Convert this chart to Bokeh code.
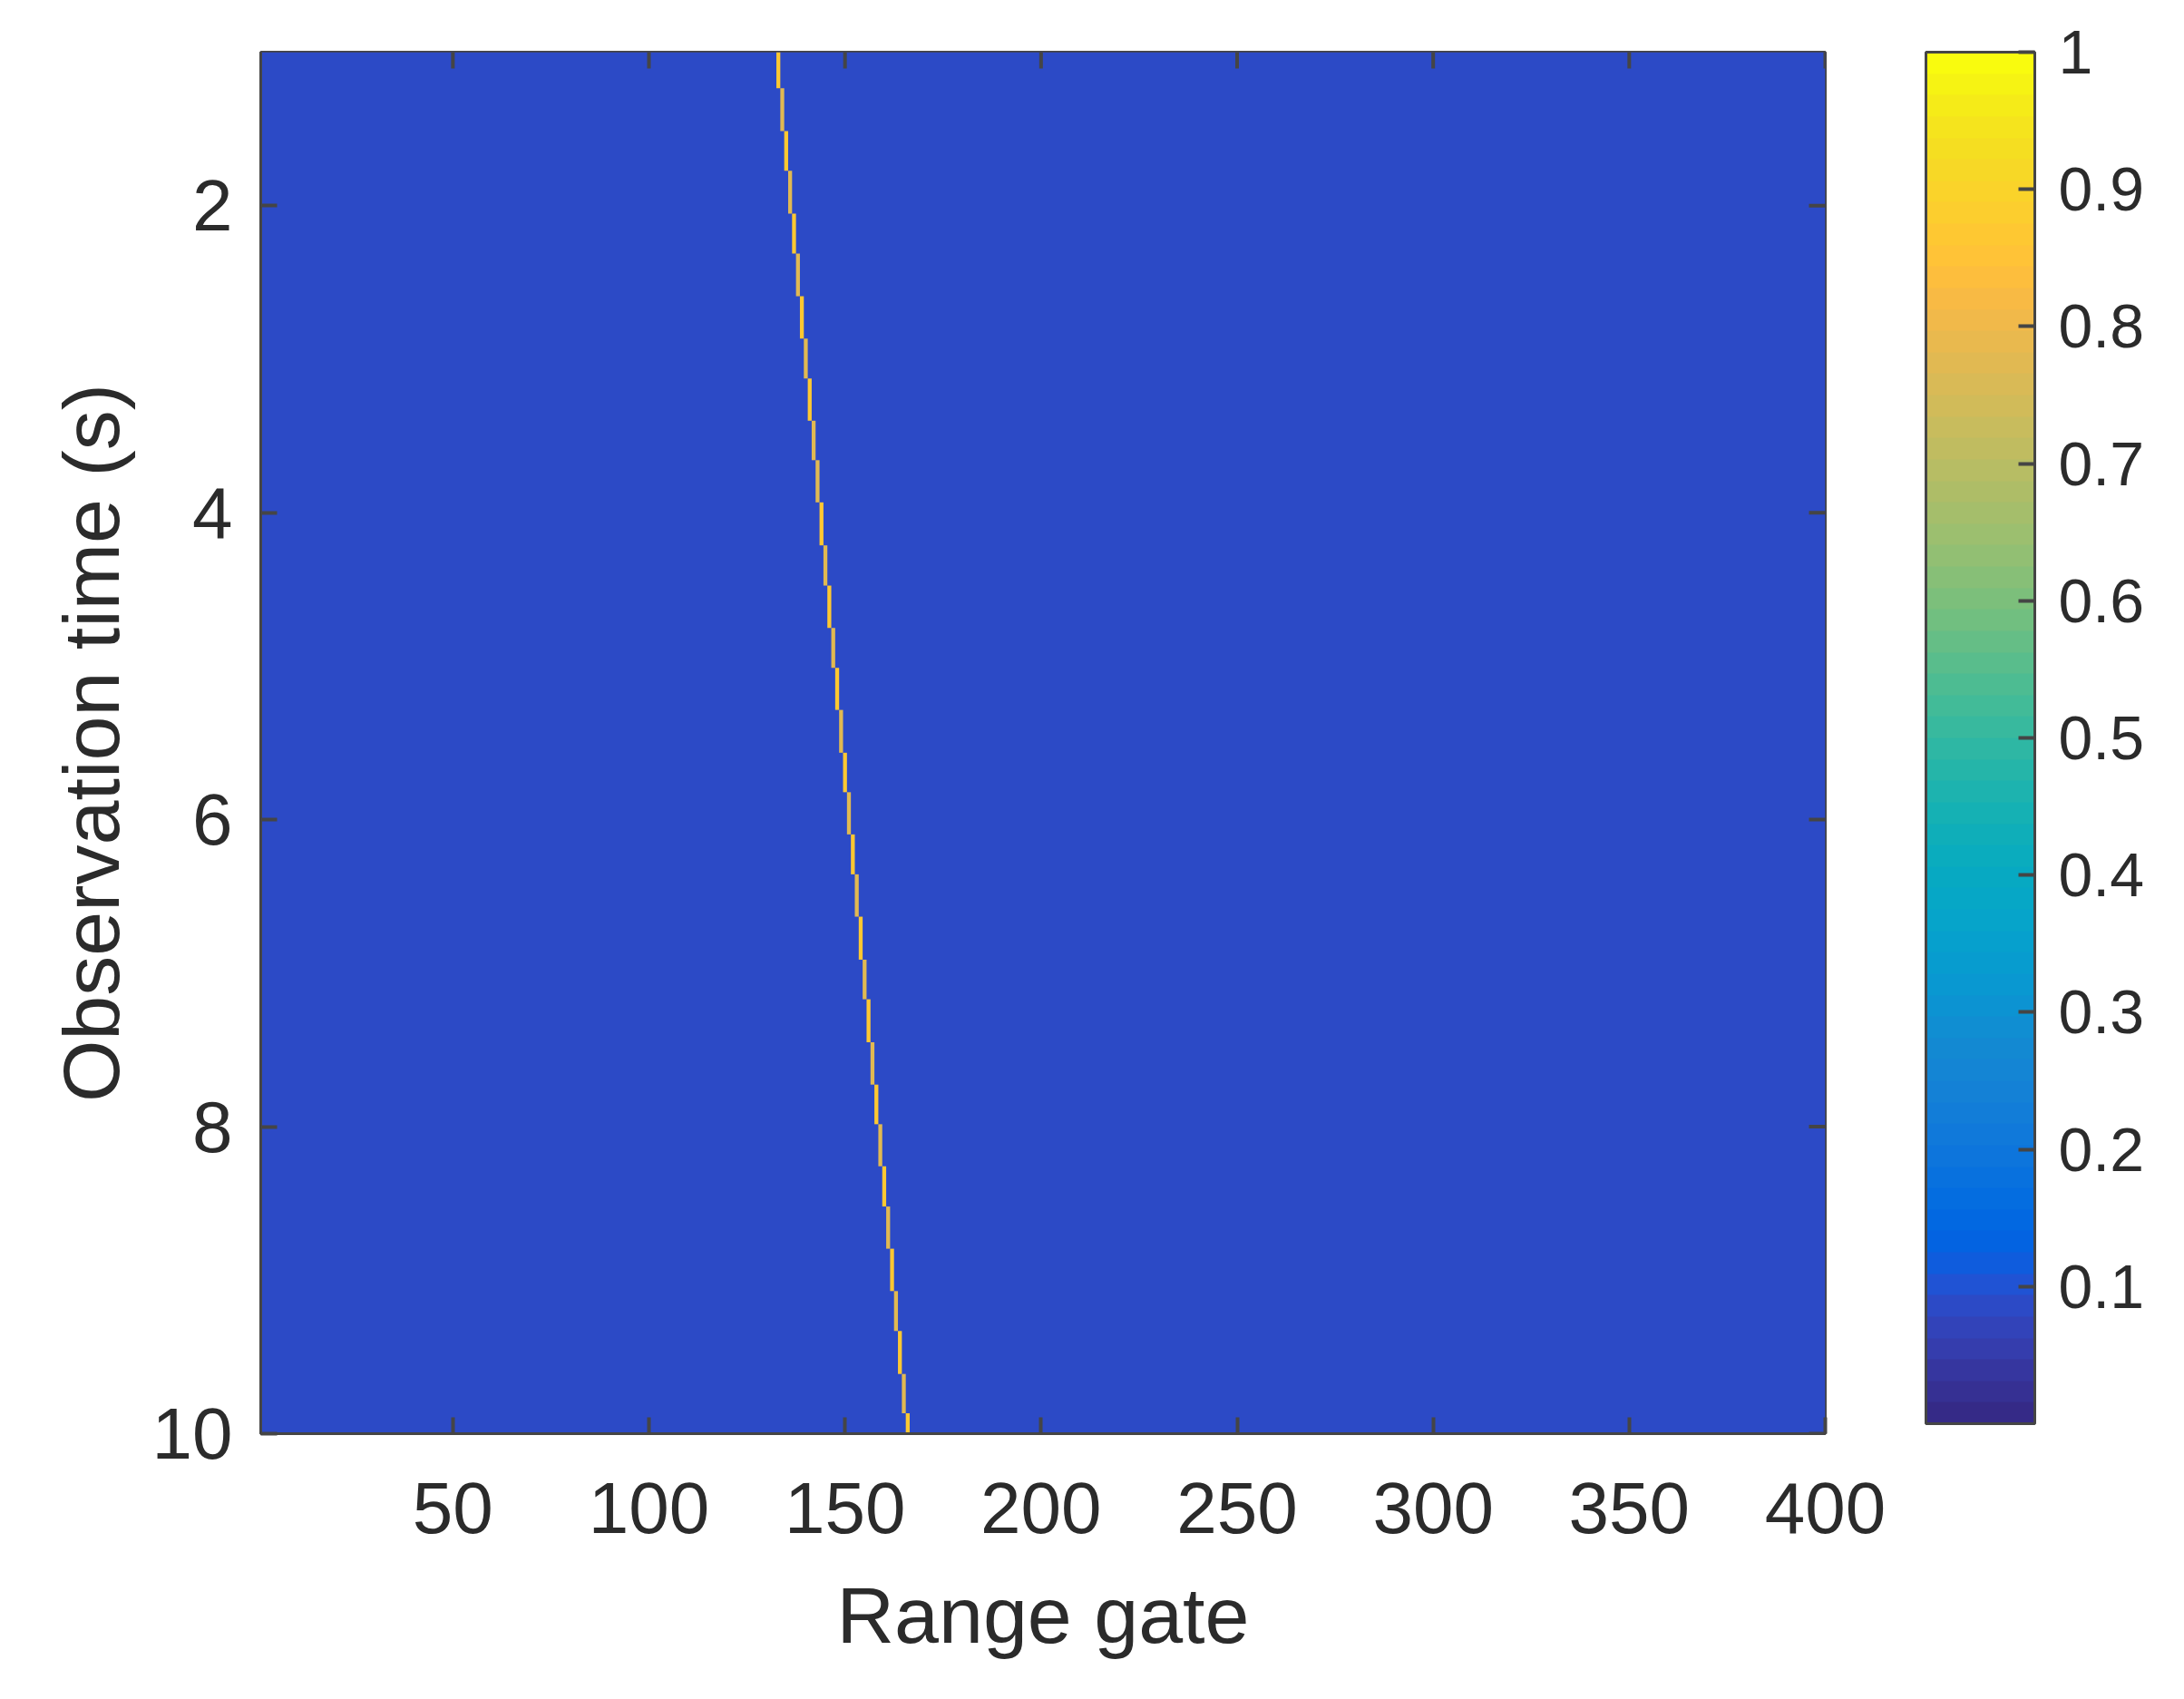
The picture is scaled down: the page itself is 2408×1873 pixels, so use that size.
import math

from bokeh.embed import file_html
from bokeh.resources import INLINE
from bokeh.plotting import figure
from bokeh.models import ColumnDataSource, LinearColorMapper, ColorBar, FixedTicker, Range1d

# Values.
# Background noise cannot be read cell by cell, so it is drawn at its estimated
# mean level rather than being invented with random numbers.
background_level = [0.09]

# Bright track: range gate of each step, the time at which each step ends, its level
track_gate = [133, 134, 135, 136, 137, 138, 139, 140, 141, 142, 143, 144, 145, 146, 147, 148, 149,
              150, 151, 152, 153, 154, 155, 156, 157, 158, 159, 160, 161, 162, 163, 164, 165, 166]
track_end = [1.235, 1.514, 1.772, 2.052, 2.312, 2.590, 2.866, 3.126, 3.401, 3.658, 3.933, 4.213,
             4.475, 4.751, 5.011, 5.285, 5.564, 5.821, 6.096, 6.356, 6.632, 6.912, 7.170, 7.450,
             7.726, 7.984, 8.258, 8.520, 8.795, 9.071, 9.331, 9.611, 9.867, 10.0]
track_level = [0.87, 0.78, 0.87, 0.78, 0.87, 0.78, 0.87, 0.78, 0.87, 0.78, 0.78, 0.87, 0.78, 0.87,
               0.78, 0.87, 0.78, 0.87, 0.78, 0.87, 0.78, 0.87, 0.78, 0.87, 0.78, 0.87, 0.78, 0.87,
               0.78, 0.87, 0.78, 0.87, 0.78, 0.87]

x_ticks = [50, 100, 150, 200, 250, 300, 350, 400]
y_ticks = [2, 4, 6, 8, 10]
cbar_ticks = [0.1, 0.2, 0.3, 0.4, 0.5, 0.6, 0.7, 0.8, 0.9, 1.0]

parula = ["#352A87", "#363093", "#36369F", "#353DAD", "#3243B9", "#2C4AC6", "#2053D4",
          "#0F5CDD", "#0363E1", "#0268E1", "#046DE0", "#0871DE", "#0D75DC", "#1079DA", "#127DD8",
          "#1481D6", "#1485D4", "#1389D2", "#108ED2", "#0C93D2", "#0998D1", "#079CCF", "#06A0CD",
          "#06A4CA", "#06A7C6", "#07A9C2", "#0AACBE", "#0FAEB9", "#15B1B4", "#1DB3AF", "#25B5A9",
          "#2EB7A4", "#38B99E", "#42BB98", "#4DBC92", "#59BD8C", "#65BE86", "#71BF80", "#7CBF7B",
          "#87BF77", "#92BF73", "#9CBF6F", "#A5BE6B", "#AEBD67", "#B7BD64", "#C0BC60", "#C8BC5D",
          "#D1BB59", "#D9BA56", "#E1B952", "#E9B94E", "#F1B94A", "#F8BA44", "#FDBE3D", "#FFC337",
          "#FEC832", "#FCCE2E", "#FAD32A", "#F7D826", "#F5DE21", "#F5E41D", "#F5EB18", "#F6F313",
          "#F9FB0E"]

TEXT = "#2b2b2b"
LINE = "#454545"
FONT = "Liberation Sans"
X_LIM = (1, 400)
Y_LIM = (10, 1)

mapper = LinearColorMapper(palette=parula, low=0, high=1)

p = figure(frame_width=1725, frame_height=1523, width=2392, height=1857,
           x_range=Range1d(*X_LIM), y_range=Range1d(*Y_LIM),
           output_backend="svg", toolbar_location=None,
           x_axis_label="Range gate", y_axis_label="Observation time (s)",
           min_border_left=287, min_border_top=57, min_border_bottom=100, min_border_right=380)
p.grid.visible = False
p.outline_line_color = LINE
p.outline_line_width = 3

bg = ColumnDataSource(dict(left=[X_LIM[0]], right=[X_LIM[1]], top=[Y_LIM[1]], bottom=[Y_LIM[0]],
                           level=background_level))
p.quad(left="left", right="right", top="top", bottom="bottom", source=bg,
       fill_color={"field": "level", "transform": mapper}, line_color=None)

starts = [Y_LIM[1]] + track_end[:-1]
src = ColumnDataSource(dict(
    left=[g - 0.5 for g in track_gate],
    right=[g + 0.5 for g in track_gate],
    top=starts, bottom=track_end, level=track_level))
p.quad(left="left", right="right", top="top", bottom="bottom", source=src,
       fill_color={"field": "level", "transform": mapper}, line_color=None)

# Inward tick marks on the top and right edges (half of each mark is clipped by the frame).
p.scatter(x=x_ticks, y=[Y_LIM[1]] * len(x_ticks), marker="dash", size=36, angle=math.pi / 2,
          line_color=LINE, line_width=4)
p.scatter(x=[X_LIM[1]] * len(y_ticks), y=y_ticks, marker="dash", size=36,
          line_color=LINE, line_width=4)

for ax, ticks in ((p.xaxis[0], x_ticks), (p.yaxis[0], y_ticks)):
    ax.ticker = FixedTicker(ticks=ticks)
    ax.minor_tick_line_color = None
    ax.major_tick_in = 18
    ax.major_tick_out = 0
    ax.major_tick_line_color = LINE
    ax.major_tick_line_width = 4
    ax.axis_line_color = LINE
    ax.axis_line_width = 3
    ax.major_label_text_font = FONT
    ax.major_label_text_font_size = "80px"
    ax.major_label_text_color = TEXT
    ax.axis_label_text_font = FONT
    ax.axis_label_text_font_style = "normal"
    ax.axis_label_text_color = TEXT
    ax.axis_label_text_font_size = "88px"
p.xaxis[0].major_label_standoff = 54
p.yaxis[0].major_label_standoff = 31
p.xaxis[0].axis_label_standoff = 38
p.yaxis[0].axis_label_standoff = 15
p.yaxis[0].major_label_orientation = "horizontal"

cb = ColorBar(color_mapper=mapper, ticker=FixedTicker(ticks=cbar_ticks),
              major_label_overrides={1.0: "1"},
              width=120, height=1512, location=(1836, 11), margin=0, padding=0,
              major_tick_in=18, major_tick_line_color=LINE, major_tick_line_width=4,
              bar_line_color=LINE, bar_line_width=3,
              major_label_text_font=FONT, major_label_text_font_size="68px",
              major_label_text_color=TEXT, label_standoff=26, border_line_color=None,
              background_fill_color=None, minor_tick_line_color=None)
p.add_layout(cb)

open("out.html", "w").write(file_html(p, INLINE))
